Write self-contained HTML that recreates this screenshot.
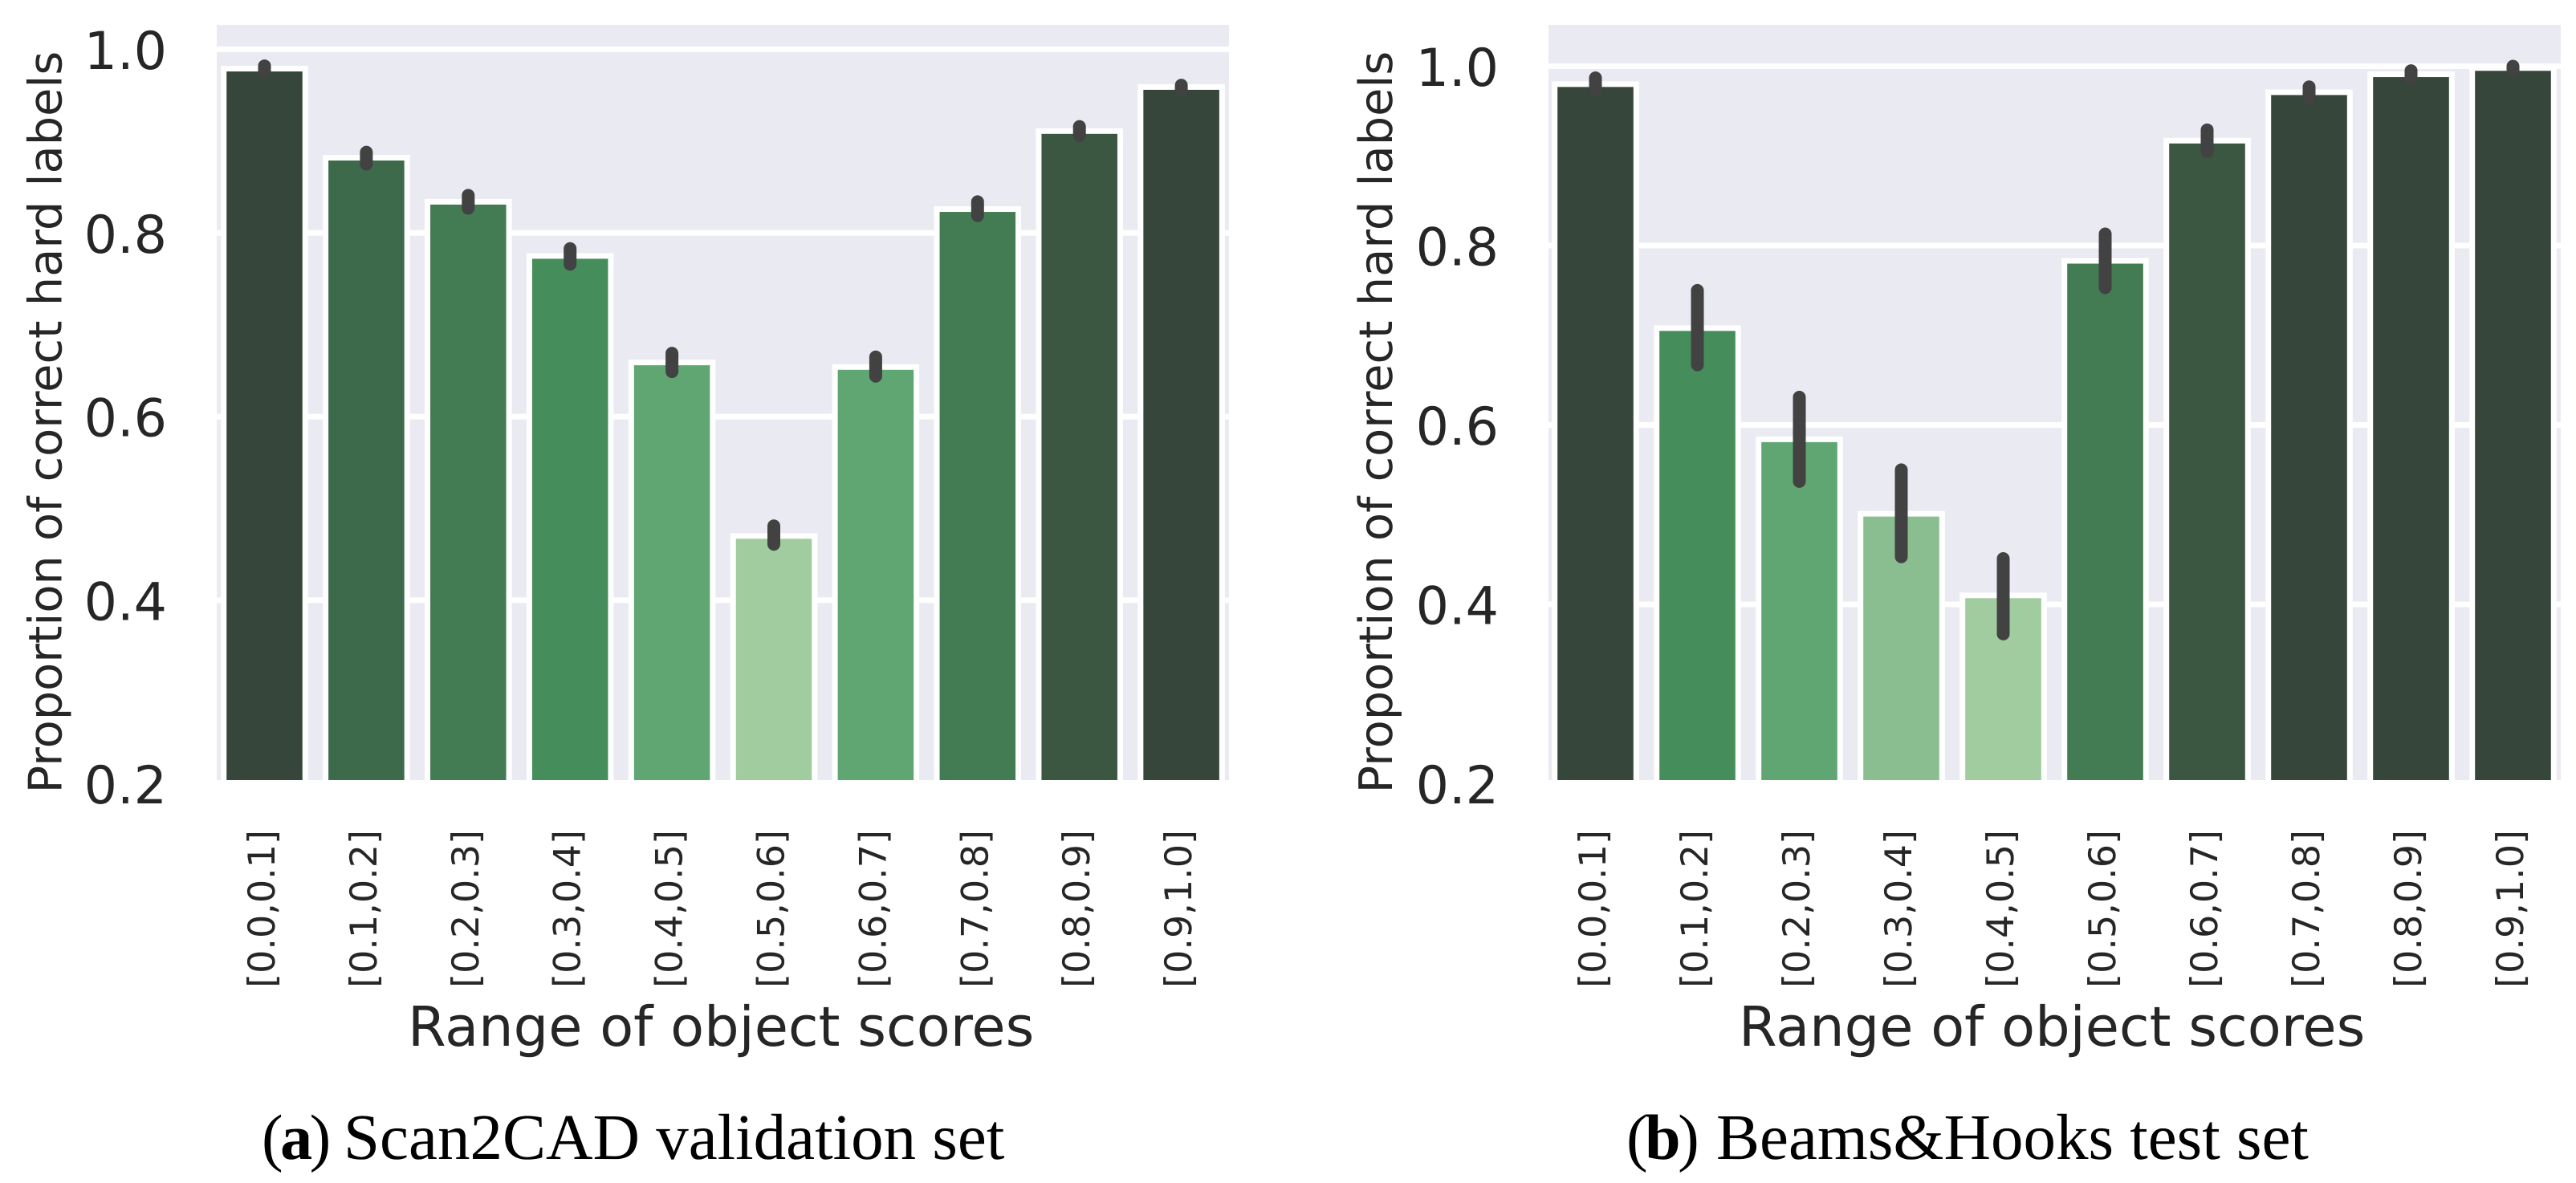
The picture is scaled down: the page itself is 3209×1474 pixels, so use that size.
<!DOCTYPE html>
<html lang="en">
<head>
<meta charset="utf-8">
<title>Proportion of correct hard labels by object score range</title>
<style>
html,body{margin:0;padding:0;background:#fff;width:3209px;height:1474px;overflow:hidden}
svg{display:block;text-rendering:geometricPrecision}
.sans{font-family:"DejaVu Sans","Liberation Sans",sans-serif;fill:#262626}
.serif{font-family:"Liberation Serif",serif;fill:#000;font-size:80px}
</style>
</head>
<body>
<svg id="chart" xmlns="http://www.w3.org/2000/svg" width="3209" height="1474" viewBox="0 0 3209 1474"></svg>
<script>
const categories = ["[0.0,0.1]","[0.1,0.2]","[0.2,0.3]","[0.3,0.4]","[0.4,0.5]","[0.5,0.6]","[0.6,0.7]","[0.7,0.8]","[0.8,0.9]","[0.9,1.0]"];
const yTicks = [0.2,0.4,0.6,0.8,1.0];
const yTickLabels = ["0.2","0.4","0.6","0.8","1.0"];

const scan2cadValues = [0.979,0.882,0.834,0.775,0.659,0.470,0.654,0.826,0.911,0.959];
const scan2cadCiLow  = [0.976,0.875,0.827,0.766,0.649,0.461,0.644,0.819,0.906,0.956];
const scan2cadCiHigh = [0.982,0.888,0.841,0.783,0.669,0.481,0.665,0.834,0.916,0.961];

const beamsValues = [0.980,0.708,0.584,0.501,0.410,0.783,0.917,0.971,0.991,0.998];
const beamsCiLow  = [0.973,0.667,0.537,0.453,0.367,0.753,0.905,0.965,0.986,0.995];
const beamsCiHigh = [0.987,0.750,0.631,0.550,0.451,0.813,0.929,0.977,0.995,1.000];

const scan2cadPalette = ["#37463b","#3e6a4c","#437c52","#458d5a","#60a672","#a0cc9f","#60a672","#437c52","#3b5741","#37463b"];
const beamsPalette = ["#37463b","#458d5a","#60a672","#8abd90","#a0cc9f","#437c52","#3b5741","#37463b","#37463b","#37463b"];

const NS = "http://www.w3.org/2000/svg";
const root = document.getElementById("chart");

function make(tag, attrs, parent, text) {
  const el = document.createElementNS(NS, tag);
  for (const k in attrs) el.setAttribute(k, attrs[k]);
  if (text !== undefined) el.textContent = text;
  (parent || root).appendChild(el);
  return el;
}

function drawPanel(p) {
  const xScale = i => p.firstBarX + i * p.pitch;
  const yScale = v => p.yOne + (1 - v) * p.unit;
  const g = make("g", {}, root);
  
  

  const clipId = "clip-" + p.key;
  const defs = make("defs", {}, g);
  const clip = make("clipPath", {id: clipId}, defs);
  make("rect", {x: p.left, y: p.top, width: p.right - p.left, height: p.bottom - p.top}, clip);

  const bg = make("rect", {x: p.left, y: p.top, width: p.right - p.left, height: p.bottom - p.top, fill: "#eaeaf2"}, g);
  
  

  const plot = make("g", {"clip-path": "url(#" + clipId + ")"}, g);

  yTicks.forEach((t, i) => {
    const y = yScale(t);
    const line = make("line", {x1: p.left, x2: p.right, y1: y, y2: y, stroke: "#fff", "stroke-width": 7}, plot);
    
    

    const label = make("text", {x: p.tickRight, y: y + 24.5, "text-anchor": "end", "font-size": 65, class: "sans"}, g, yTickLabels[i]);
    
    
  });

  const barHalf = p.pitch * 0.4;
  categories.forEach((c, i) => {
    const cx = xScale(i);
    const top = yScale(p.values[i]);
    const base = yScale(0.2);
    const bar = make("rect", {x: cx - barHalf, y: top, width: barHalf * 2, height: base - top, fill: p.palette[i], stroke: "#fff", "stroke-width": 7}, plot);
    
    
  });

  categories.forEach((c, i) => {
    const cx = xScale(i);
    const err = make("line", {x1: cx, x2: cx, y1: yScale(p.ciLow[i]), y2: yScale(p.ciHigh[i]), stroke: "#424242", "stroke-width": 16, "stroke-linecap": "round"}, plot);
    
    

    const lx = cx + 12.5;
    const ly = 1034;
    const tick = make("text", {x: lx, y: ly, transform: "rotate(-90 " + lx + " " + ly + ")", "text-anchor": "end", "font-size": 46, class: "sans"}, g, c);
    
    
  });

  const yTitle = make("text", {x: p.yTitleX, y: 526, transform: "rotate(-90 " + p.yTitleX + " 526)", "text-anchor": "middle", "font-size": 57.4, class: "sans"}, g, "Proportion of correct hard labels");
  
  

  const xTitle = make("text", {x: p.xTitleX, y: 1303, "font-size": 68.6, class: "sans"}, g, "Range of object scores");
  
  

  const cap = make("text", {x: p.captionX, y: 1444, class: "serif"}, g);
  
  
  make("tspan", {"letter-spacing": "-3.5"}, cap, "(");
  make("tspan", {"font-weight": "bold", "letter-spacing": "-3.5"}, cap, p.letter);
  make("tspan", {}, cap, ")");
  make("tspan", {x: p.captionTextX, "font-size": 81}, cap, p.caption);
}

drawPanel({
  key: "scan2cad", left: 270, right: 1531, top: 31, bottom: 972,
  firstBarX: 329.5, pitch: 126.9, yOne: 61.5, unit: 1144,
  tickRight: 208, yTitleX: 76.5, xTitleX: 508, captionX: 326, captionTextX: 428,
  values: scan2cadValues, ciLow: scan2cadCiLow, ciHigh: scan2cadCiHigh, palette: scan2cadPalette,
  letter: "a", caption: "Scan2CAD validation set"
});

drawPanel({
  key: "beams-hooks", left: 1929, right: 3190, top: 31, bottom: 972,
  firstBarX: 1987.5, pitch: 127, yOne: 82.5, unit: 1117.5,
  tickRight: 1867, yTitleX: 1734, xTitleX: 2166, captionX: 2026, captionTextX: 2138,
  values: beamsValues, ciLow: beamsCiLow, ciHigh: beamsCiHigh, palette: beamsPalette,
  letter: "b", caption: "Beams&Hooks test set"
});
</script>
</body>
</html>
